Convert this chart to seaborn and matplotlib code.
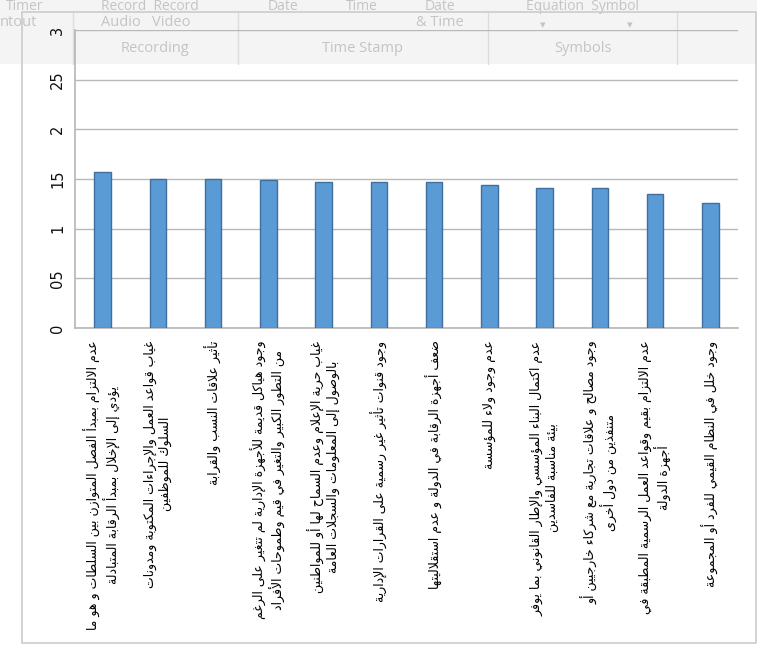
import matplotlib
matplotlib.use("Agg")
import matplotlib.pyplot as plt
from matplotlib.patches import Rectangle
from matplotlib.lines import Line2D
from matplotlib.transforms import Bbox, TransformedBbox
import seaborn as sns
import pandas as pd

# ---- data ---------------------------------------------------------------
factors = [
    "عدم الالتزام بمبدأ الفصل المتوازن بين السلطات و هو ما\nيؤدي إلى الإخلال بمبدأ الرقابة المتبادلة",
    "غياب قواعد العمل والإجراءات المكتوبة ومدونات\nالسلوك للموظفين",
    "تأثير علاقات النسب والقرابة",
    "وجود هياكل قديمة للأجهزة الإدارية لم تتغير على الرغم\nمن التطور الكبير والتغير في قيم وطموحات الأفراد",
    "غياب حرية الإعلام وعدم السماح لها أو للمواطنين\nبالوصول إلى المعلومات والسجلات العامة",
    "وجود قنوات تأثير غير رسمية على القرارات الإدارية",
    "ضعف أجهزة الرقابة في الدولة و عدم استقلاليتها",
    "عدم وجود ولاء للمؤسسة",
    "عدم اكتمال البناء المؤسسي والإطار القانوني بما يوفر\nبيئة مناسبة للفاسدين",
    "وجود مصالح و علاقات تجارية مع شركاء خارجيين أو\nمتنفذين من دول أخرى",
    "عدم الالتزام بقيم وقواعد العمل الرسمية المطبقة في\nأجهزة الدولة",
    "وجود خلل في النظام القيمي للفرد أو المجموعة",
]
means = [1.57, 1.50, 1.50, 1.49, 1.47, 1.47, 1.47, 1.44, 1.41, 1.41, 1.35, 1.26]

y_ticks = [0, 0.5, 1, 1.5, 2, 2.5, 3]
y_tick_labels = ["0", "05", "1", "15", "2", "25", "3"]

# ---- minimal Arabic shaping (presentation forms + visual order) ---------
_DUAL = {'ئ': 0xFE89, 'ب': 0xFE8F, 'ت': 0xFE95, 'ث': 0xFE99, 'ج': 0xFE9D,
         'ح': 0xFEA1, 'خ': 0xFEA5, 'س': 0xFEB1, 'ش': 0xFEB5, 'ص': 0xFEB9,
         'ض': 0xFEBD, 'ط': 0xFEC1, 'ظ': 0xFEC5, 'ع': 0xFEC9, 'غ': 0xFECD,
         'ف': 0xFED1, 'ق': 0xFED5, 'ك': 0xFED9, 'ل': 0xFEDD, 'م': 0xFEE1,
         'ن': 0xFEE5, 'ه': 0xFEE9, 'ي': 0xFEF1}
_RIGHT = {'آ': 0xFE81, 'أ': 0xFE83, 'ؤ': 0xFE85, 'إ': 0xFE87, 'ا': 0xFE8D,
          'ة': 0xFE93, 'د': 0xFEA9, 'ذ': 0xFEAB, 'ر': 0xFEAD, 'ز': 0xFEAF,
          'و': 0xFEED, 'ى': 0xFEEF}
_NONJOIN = {'ء': 0xFE80}
_LAM_ALEF = {'آ': 0xFEF5, 'أ': 0xFEF7, 'إ': 0xFEF9, 'ا': 0xFEFB}


def shape_line(s):
    units = []
    i = 0
    while i < len(s):
        c = s[i]
        if c == 'ل' and i + 1 < len(s) and s[i + 1] in _LAM_ALEF:
            units.append(('R', _LAM_ALEF[s[i + 1]]))
            i += 2
            continue
        if c in _DUAL:
            units.append(('D', _DUAL[c]))
        elif c in _RIGHT:
            units.append(('R', _RIGHT[c]))
        elif c in _NONJOIN:
            units.append(('U', _NONJOIN[c]))
        else:
            units.append(('X', c))
        i += 1
    out = []
    for j, (kind, val) in enumerate(units):
        if kind == 'X':
            out.append(val)
            continue
        if kind == 'U':
            out.append(chr(val))
            continue
        prev = units[j - 1][0] if j > 0 else 'X'
        nxt = units[j + 1][0] if j + 1 < len(units) else 'X'
        jp = prev == 'D'
        jn = kind == 'D' and nxt in ('D', 'R')
        if kind == 'D':
            off = 3 if (jp and jn) else 1 if jp else 2 if jn else 0
        else:
            off = 1 if jp else 0
        out.append(chr(val + off))
    return ''.join(reversed(out))


def shape(text):
    return '\n'.join(shape_line(line) for line in text.split('\n'))


# ---- figure -------------------------------------------------------------
W, H = 757, 645
sns.set_theme(style="white")
plt.rcParams['font.family'] = ['DejaVu Sans']
fig = plt.figure(figsize=(W / 100, H / 100), dpi=100, facecolor="white")


def fx(px):
    return px / W


def fy(py):
    return 1 - py / H


# ribbon band across the top
fig.patches.append(Rectangle((0, fy(64)), 1, 64 / H, transform=fig.transFigure,
                             facecolor="#f4f4f4", edgecolor="none", zorder=0))
for xs in (73, 238, 488, 677):
    fig.add_artist(Line2D([fx(xs), fx(xs)], [fy(12), fy(64)], color="#dcdcdc",
                          lw=1, transform=fig.transFigure, zorder=1))
rib_font = dict(family=["Open Sans", "DejaVu Sans"], color="#c4c4c4",
                transform=fig.transFigure, zorder=1, va="center")
for txt, xc in (("Timer", 25), ("Record  Record", 150), ("Date", 283),
                ("Time", 362), ("Date", 440), ("Equation  Symbol", 583)):
    fig.text(fx(xc), fy(6), txt, ha="center", fontsize=10, **rib_font)
fig.text(fx(0), fy(23), "ntout", ha="left", fontsize=10.5, **rib_font)
fig.text(fx(146), fy(23), "Audio   Video", ha="center", fontsize=10.5, **rib_font)
fig.text(fx(440), fy(23), "& Time", ha="center", fontsize=10.5, **rib_font)
fig.text(fx(543), fy(26), "▾", ha="center", fontsize=8, **rib_font)
fig.text(fx(630), fy(26), "▾", ha="center", fontsize=8, **rib_font)
for txt, xc in (("Recording", 155), ("Time Stamp", 362), ("Symbols", 583)):
    fig.text(fx(xc), fy(48), txt, ha="center", fontsize=10.5, **rib_font)

# chart area border
fig.add_artist(Rectangle((fx(22), fy(643)), fx(756) - fx(22), fy(12) - fy(643),
                         transform=fig.transFigure, facecolor="none",
                         edgecolor="#cccccc", lw=1.2, zorder=2))

# plot area
ax = fig.add_axes([fx(75), fy(328), fx(738) - fx(75), fy(30) - fy(328)])
ax.set_facecolor("none")
ax.set_zorder(3)

df = pd.DataFrame({"factor": factors, "mean": means})
sns.barplot(data=df, x="factor", y="mean", order=factors, color="#5b9bd5",
            saturation=1, width=0.3, edgecolor="#3f6f9f", linewidth=1.0,
            ax=ax, zorder=3)

ax.set_ylim(0, 3)
ax.set_xlim(-0.5, len(factors) - 0.5)
ax.set_yticks(y_ticks)
ax.set_yticklabels(y_tick_labels, rotation=90, va="center", ha="right",
                   fontsize=10.5, color="#111111")
ax.yaxis.grid(True, color="#b8b8b8", lw=1.0, zorder=0)
ax.set_axisbelow(True)
ax.tick_params(axis="both", length=0)
ax.tick_params(axis="y", pad=7)
ax.tick_params(axis="x", pad=9)
ax.set_xlabel("")
ax.set_ylabel("")
for side in ("top", "right"):
    ax.spines[side].set_visible(False)
ax.spines["left"].set_color("#b8b8b8")
ax.spines["bottom"].set_color("#b8b8b8")

ax.set_xticks(range(len(factors)))
ax.set_xticklabels([shape(f) for f in factors], rotation=90, ha="center",
                   va="top", multialignment="center", fontsize=9,
                   linespacing=1.2, color="#000000")
clip = TransformedBbox(Bbox([[0, fy(634)], [1, 1]]), fig.transFigure)
for lab in ax.get_xticklabels():
    lab.set_clip_box(clip)
    lab.set_clip_on(True)

fig.savefig("out.png", dpi=100, facecolor="white")
